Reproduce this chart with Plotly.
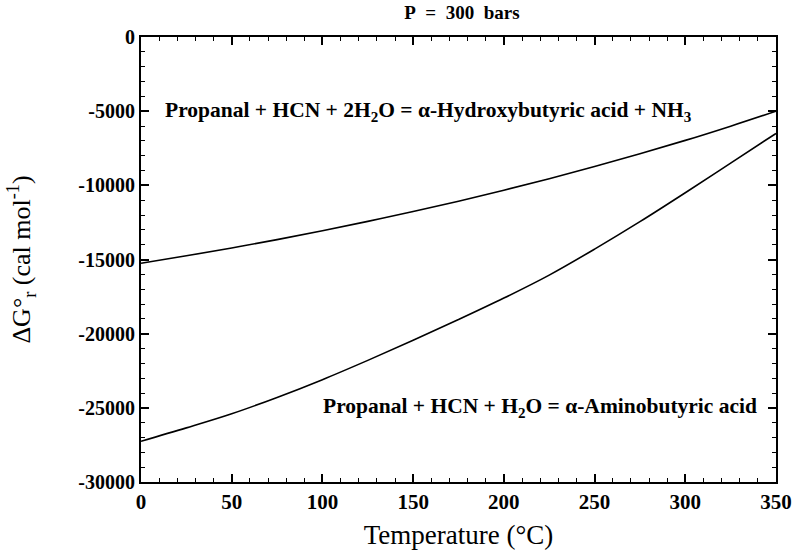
import plotly.graph_objects as go

temperature = [0, 25, 50, 75, 100, 125, 150, 175, 200, 225, 250, 275, 300, 325, 350]
dg_hydroxy = [-15250, -14750, -14220, -13660, -13060, -12430, -11770, -11070, -10330,
              -9550, -8730, -7870, -6970, -6010, -5000]
dg_amino = [-27250, -26350, -25400, -24300, -23100, -21800, -20450, -19050, -17600,
            -16050, -14300, -12450, -10500, -8500, -6500]

x_ticks = [0, 50, 100, 150, 200, 250, 300, 350]
y_ticks = [0, -5000, -10000, -15000, -20000, -25000, -30000]
y_ticktext = ["0", "-5000", "-10000", "-15000", "-20000", "-25000", "-30000"]

label_hydroxy = "<b>Propanal + HCN + 2H<sub>2</sub>O = α-Hydroxybutyric acid + NH<sub>3</sub></b>"
label_amino = "<b>Propanal + HCN + H<sub>2</sub>O = α-Aminobutyric acid</b>"

FONT = "Liberation Serif, Times New Roman, serif"

fig = go.Figure()
fig.add_trace(go.Scatter(x=temperature, y=dg_hydroxy, mode="lines",
                         line=dict(color="black", width=1.6, shape="spline"), showlegend=False))
fig.add_trace(go.Scatter(x=temperature, y=dg_amino, mode="lines",
                         line=dict(color="black", width=1.6, shape="spline"), showlegend=False))

fig.add_annotation(x=12, y=-5000, xref="x", yref="y", text=label_hydroxy, showarrow=False,
                   xanchor="left", yanchor="middle", font=dict(family=FONT, size=21.5, color="black"))
fig.add_annotation(x=99, y=-25000, xref="x", yref="y", text=label_amino, showarrow=False,
                   xanchor="left", yanchor="middle", font=dict(family=FONT, size=21.5, color="black"))

axis_common = dict(showgrid=False, zeroline=False, showline=True, linecolor="black", linewidth=2,
                   mirror="ticks", ticks="inside", ticklen=8, tickwidth=1.5, tickcolor="black")

fig.update_xaxes(range=[0, 350], tickvals=x_ticks, ticktext=[str(v) for v in x_ticks],
                 tickfont=dict(family=FONT, size=21, color="black", weight="bold"),
                 minor=dict(dtick=10, ticks="inside", ticklen=4, tickcolor="black", tickwidth=1),
                 title=dict(text="Temperature (°C)", font=dict(family=FONT, size=27, color="black"), standoff=12),
                 **axis_common)
fig.update_yaxes(range=[-30000, 0], tickvals=y_ticks, ticktext=y_ticktext,
                 tickfont=dict(family=FONT, size=20, color="black", weight="bold"),
                 minor=dict(dtick=1000, ticks="inside", ticklen=4, tickcolor="black", tickwidth=1),
                 title=dict(text="ΔG°<sub>r</sub> (cal mol<sup>-1</sup>)", font=dict(family=FONT, size=26, color="black"), standoff=40),
                 **axis_common)

fig.update_layout(
    width=804, height=557,
    margin=dict(l=141, r=21, t=37, b=75),
    paper_bgcolor="white", plot_bgcolor="white",
    title=dict(text="<b>P&nbsp; =&nbsp; 300&nbsp; bars</b>", x=0.5745, xanchor="center", y=0.978, yanchor="middle",
               font=dict(family=FONT, size=19, color="black")),
)

fig.write_html("out.html")
